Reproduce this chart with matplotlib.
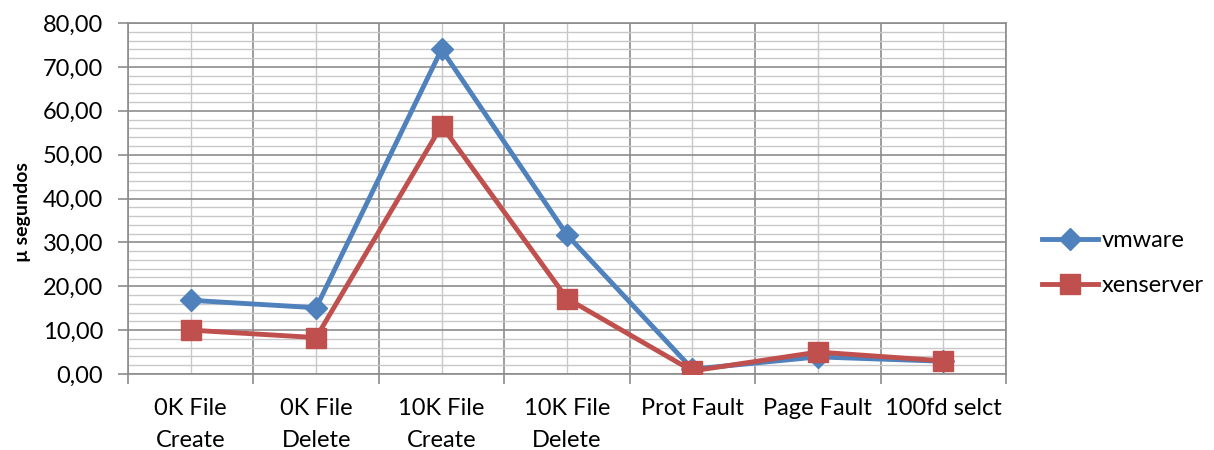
import matplotlib.pyplot as plt
from matplotlib.ticker import MultipleLocator, FuncFormatter

# dados
categorias = ["0K File\nCreate", "0K File\nDelete", "10K File\nCreate", "10K File\nDelete",
              "Prot Fault", "Page Fault", "100fd selct"]
vmware = [16.8, 15.1, 74.0, 31.7, 1.1, 3.9, 2.9]
xenserver = [10.0, 8.3, 56.6, 17.2, 0.7, 5.0, 3.0]

plt.rcParams['font.family'] = ['Lato', 'DejaVu Sans']

fig = plt.figure(figsize=(12.14, 4.5), dpi=100)
ax = fig.add_axes([128/1214, 76/450, 878/1214, 351/450])

x = list(range(len(categorias)))
ax.plot(x, vmware, color='#4F81BD', lw=3.5, marker='D', ms=11, label='vmware', zorder=3)
ax.plot(x, xenserver, color='#C0504D', lw=3.5, marker='s', ms=14, label='xenserver', zorder=4)

ax.set_xlim(-0.5, len(categorias) - 0.5)
ax.set_ylim(0, 80)

# grade no estilo do Excel
ax.yaxis.set_major_locator(MultipleLocator(10))
ax.yaxis.set_minor_locator(MultipleLocator(2))
ax.set_xticks([i - 0.5 for i in range(len(categorias) + 1)])
ax.set_xticks(x, minor=True)
ax.set_xticklabels([''] * (len(categorias) + 1))
ax.set_xticklabels(categorias, minor=True, fontsize=17, linespacing=1.65)
ax.grid(True, which='major', color='#8c8c8c', lw=1.2)
ax.grid(True, which='minor', color='#c8c8c8', lw=1.0)
ax.set_axisbelow(True)

ax.yaxis.set_major_formatter(FuncFormatter(lambda v, p: f"{v:.2f}".replace('.', ',')))
ax.tick_params(axis='y', which='major', labelsize=17, length=7, color='#8c8c8c', width=1.2, pad=11)
ax.tick_params(axis='y', which='minor', length=0)
ax.tick_params(axis='x', which='major', length=7, color='#8c8c8c', width=1.2)
ax.tick_params(axis='x', which='minor', length=0, pad=17)

for s in ax.spines.values():
    s.set_color('#8c8c8c')
    s.set_linewidth(1.2)

ax.set_ylabel("µ segundos", fontsize=14, fontweight='bold')
ax.yaxis.set_label_coords(-0.111, 0.462)

ax.legend(loc='center left', bbox_to_anchor=(1.03, 0.316), frameon=False, fontsize=17,
          handlelength=2.4, labelspacing=1.0, handletextpad=0.15, borderaxespad=0)

fig.savefig('out.png', dpi=100)
